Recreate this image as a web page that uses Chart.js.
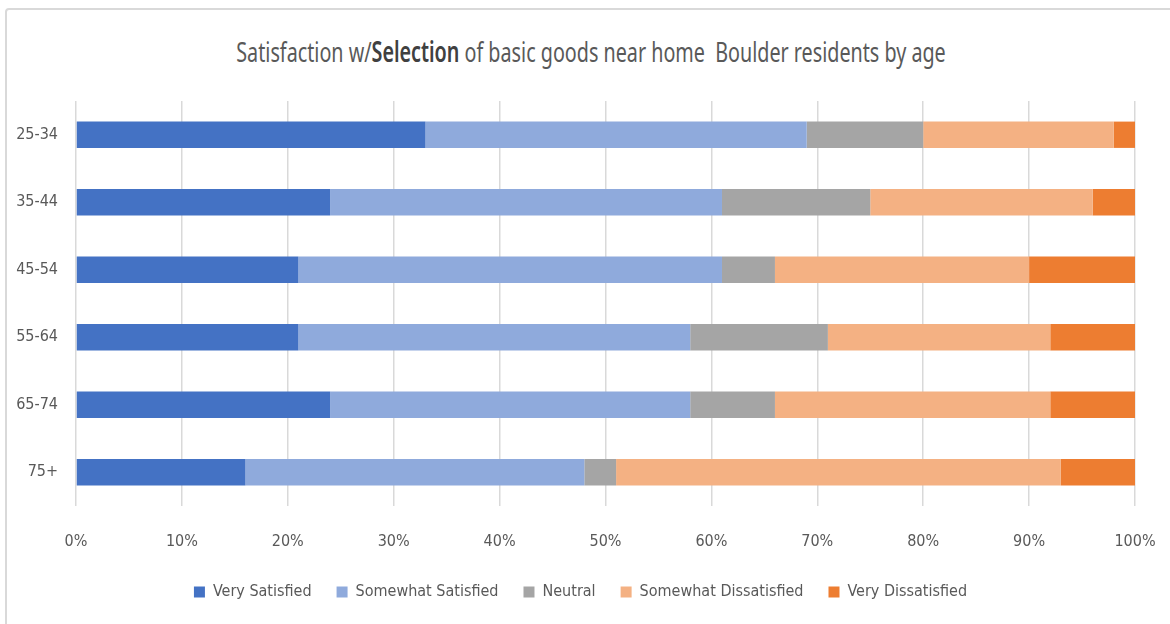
<!DOCTYPE html>
<html>
<head>
<meta charset="utf-8">
<script src="https://cdn.jsdelivr.net/npm/chart.js@4.4.0/dist/chart.umd.min.js"></script>
<style>
  html, body { margin: 0; padding: 0; background: #fff; }
  #wrap { position: relative; width: 1170px; height: 624px; overflow: hidden; }
  #frame { position: absolute; left: 5px; top: 8px; width: 1180px; height: 640px;
    border: 2px solid #d9d9d9; border-radius: 4px; box-sizing: border-box; }
  #title { position: absolute; left: 0; width: 1182px; top: 32px; text-align: center;
    font-family: "Noto Sans", sans-serif; font-size: 28px; color: #595959;
    transform: scaleX(0.705); transform-origin: 591px 0; white-space: nowrap; }
  #title b { color: #404040; font-weight: 600; }
  canvas { position: absolute; left: 0; top: 0; }
</style>
</head>
<body>
<div id="wrap">
  <div id="frame"></div>
  <div id="title">Satisfaction w/<b>Selection</b> of basic goods near home&nbsp; Boulder residents by age</div>
  <canvas id="chart" width="1170" height="624"></canvas>
</div>
<script>
const ageGroups = ["25-34", "35-44", "45-54", "55-64", "65-74", "75+"];
const verySatisfied = [33, 24, 21, 21, 24, 16];
const somewhatSatisfied = [36, 37, 40, 37, 34, 32];
const neutral = [11, 14, 5, 13, 8, 3];
const somewhatDissatisfied = [18, 21, 24, 21, 26, 42];
const veryDissatisfied = [2, 4, 10, 8, 8, 7];
const xTicks = [0, 10, 20, 30, 40, 50, 60, 70, 80, 90, 100];

const font = "'DejaVu Sans Condensed', 'Liberation Sans Narrow', sans-serif";
const textColor = "#595959";

const series = [
  ["Very Satisfied", verySatisfied, "#4472C4"],
  ["Somewhat Satisfied", somewhatSatisfied, "#8FAADC"],
  ["Neutral", neutral, "#A5A5A5"],
  ["Somewhat Dissatisfied", somewhatDissatisfied, "#F4B183"],
  ["Very Dissatisfied", veryDissatisfied, "#ED7D31"],
];

// legend width includes a trailing item gap, nudge it back to centre
const legendNudge = {
  id: "legendNudge",
  afterLayout(chart) {
    chart.legend.left += 13;
    chart.legend.right += 13;
  },
};

const ctx = document.getElementById("chart").getContext("2d");
new Chart(ctx, {
  type: "bar",
  data: {
    labels: ageGroups,
    datasets: series.map(([label, data, color]) => ({
      label,
      data,
      backgroundColor: color,
      borderWidth: 0,
      barPercentage: 0.39,
      categoryPercentage: 1,
    })),
  },
  plugins: [legendNudge],
  options: {
    indexAxis: "y",
    responsive: false,
    animation: false,
    layout: { padding: { top: 101, right: 35, bottom: 14, left: 0 } },
    scales: {
      x: {
        stacked: true,
        min: 0,
        max: 100,
        afterBuildTicks: (scale) => { scale.ticks = xTicks.map((v) => ({ value: v })); },
        afterFit: (scale) => { scale.height = 53; },
        grid: {
          color: "#d9d9d9",
          lineWidth: 1.5,
          drawTicks: true,
          tickLength: 22,
          tickColor: "rgba(0,0,0,0)",
        },
        border: { display: false },
        ticks: {
          padding: 4,
          color: textColor,
          font: { family: font, size: 16 },
          callback: (v) => v + "%",
        },
      },
      y: {
        stacked: true,
        afterFit: (scale) => { scale.width = 76; },
        grid: { display: false },
        border: { display: false },
        ticks: { padding: 10, color: textColor, font: { family: font, size: 16 } },
      },
    },
    plugins: {
      legend: {
        position: "bottom",
        labels: {
          color: textColor,
          font: { family: font, size: 16 },
          boxWidth: 11,
          boxHeight: 11,
          padding: 25,
        },
      },
      tooltip: { enabled: false },
    },
  },
});
</script>
</body>
</html>
